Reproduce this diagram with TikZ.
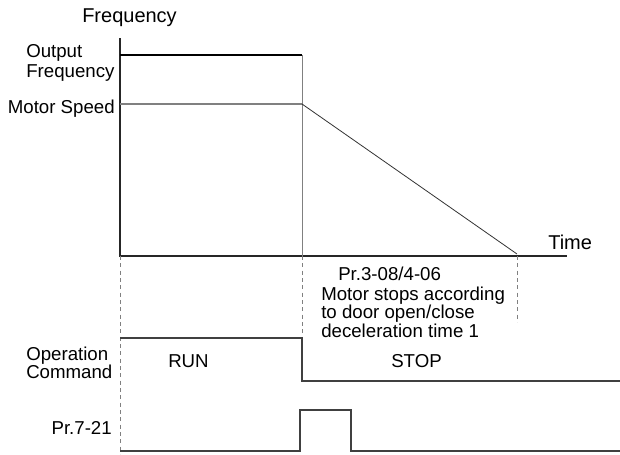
\documentclass[tikz,border=0pt]{standalone}
\usepackage{fontspec}
\setmainfont{Liberation Sans}
\begin{document}
\begin{tikzpicture}[x=0.75pt,y=-0.75pt,
  lbl/.style={inner sep=0pt,font=\fontsize{14pt}{14pt}\selectfont},
  big/.style={inner sep=0pt,font=\fontsize{15pt}{15pt}\selectfont},
  axis/.style={line width=1.1pt,black!85},
  sig/.style={line width=0.8pt,black!75},
  guide/.style={line width=0.5pt,gray,dash pattern=on 3pt off 2.5pt}]
\useasboundingbox (0,0) rectangle (620,454);
% coordinates
\coordinate (O) at (120,256);
\coordinate (ytop) at (120,38);
\coordinate (xend) at (567,256);
\coordinate (of0) at (120,55);
\coordinate (of1) at (302,55);
\coordinate (of2) at (302,256);
\coordinate (ms0) at (120,104);
\coordinate (ms1) at (302,104);
\coordinate (ms2) at (517,254);
% axes
\draw[axis] (ytop) -- (O) -- (xend);
% output frequency
\draw[line width=0.8pt,black] (of0) -- (of1);
\draw[line width=0.5pt,gray] (of1) -- (of2);
% motor speed
\draw[line width=1pt,gray] (ms0) -- (ms1);
\draw[line width=0.6pt,black!80] (ms1) -- (ms2);
% guides
\coordinate (g0) at (120,454);
\coordinate (g1a) at (302,256);
\coordinate (g1b) at (302,338);
\coordinate (g2a) at (517,256);
\coordinate (g2b) at (517,322);
\draw[guide] (O) -- (g0);
\draw[guide] (g1a) -- (g1b);
\draw[guide] (g2a) -- (g2b);
% operation command
\coordinate (oc0) at (120,338);
\coordinate (oc1) at (302,338);
\coordinate (oc2) at (302,381);
\coordinate (oc3) at (620,381);
\draw[sig] (oc0) -- (oc1) -- (oc2) -- (oc3);
% Pr.7-21
\coordinate (p0) at (120,451);
\coordinate (p1) at (300,451);
\coordinate (p2) at (300,410);
\coordinate (p3) at (351,410);
\coordinate (p4) at (351,451);
\coordinate (p5) at (620,451);
\draw[sig] (p0) -- (p1) -- (p2) -- (p3) -- (p4) -- (p5);
% labels
\node[big,anchor=base west] (tfreq) at (82,22) {Frequency};
\node[lbl,anchor=base west] (tout) at (26,57) {Output};
\node[lbl,anchor=base west] (tout2) at (26,77) {Frequency};
\node[lbl,anchor=base east] (tms) at (115,113) {Motor Speed};
\node[big,anchor=base west] (ttime) at (548,249) {Time};
\node[lbl,anchor=base west] (tpr) at (338,280) {Pr.3-08/4-06};
\node[lbl,anchor=base west] (tm1) at (321,300) {Motor stops according};
\node[lbl,anchor=base west] (tm2) at (321,318) {to door open/close};
\node[lbl,anchor=base west] (tm3) at (321,337) {deceleration time 1};
\node[lbl,anchor=base west] (top) at (26,360) {Operation};
\node[lbl,anchor=base west] (tcmd) at (26,378) {Command};
\node[lbl,anchor=base west] (trun) at (168,367) {RUN};
\node[lbl,anchor=base west] (tstop) at (391,367) {STOP};
\node[lbl,anchor=base east] (tpr7) at (112,434) {Pr.7-21};
\end{tikzpicture}
\end{document}
